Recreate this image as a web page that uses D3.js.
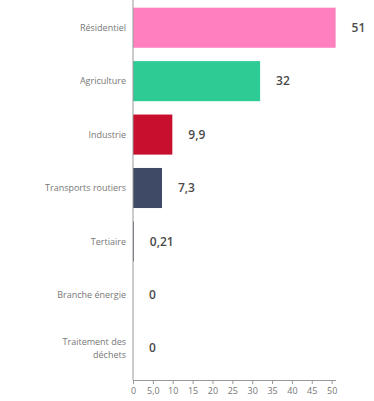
<!DOCTYPE html>
<html><head><meta charset="utf-8">
<script src="https://cdn.jsdelivr.net/npm/d3@7"></script>
<style>html,body{margin:0;padding:0;background:#fff;}svg{display:block;font-family:"Open Sans",sans-serif;}</style>
</head><body>
<svg id="c" width="374" height="401"></svg>
<script>
const categories = ["Résidentiel","Agriculture","Industrie","Transports routiers","Tertiaire","Branche énergie","Traitement des déchets"];
const values = [51, 32, 9.9, 7.3, 0.21, 0, 0];
const valueLabels = ["51","32","9,9","7,3","0,21","0","0"];
const colors = ["#ff7fbf","#2ecc94","#c8102e","#3f4b66","#3f4b66","#888","#888"];
const tickValues = [0,5,10,15,20,25,30,35,40,45,50];
const tickLabels = ["0","5,0","10","15","20","25","30","35","40","45","50"];

const svg = d3.select("#c");
const x = d3.scaleLinear().domain([0,51]).range([133,335.6]);
const y = d3.scaleBand().domain(categories).range([1,375]).paddingInner(0.25).paddingOuter(0.125);

svg.selectAll("rect.bar").data(categories).join("rect")
  .attr("class","bar")
  .attr("x", x(0))
  .attr("y", d=>y(d))
  .attr("width", (d,i)=>x(values[i])-x(0))
  .attr("height", y.bandwidth())
  .attr("fill", (d,i)=>colors[i]);

// value labels
svg.selectAll("text.val").data(categories).join("text")
  .attr("class","val")
  .attr("x", (d,i)=>x(values[i])+16)
  .attr("y", d=>y(d)+y.bandwidth()/2)
  .attr("dy","0.35em")
  .attr("fill","#4a4a4a")
  .attr("font-size","12px")
  .attr("font-weight","600")
  .text((d,i)=>valueLabels[i]);

// category labels
const lab = svg.selectAll("text.cat").data(categories).join("text")
  .attr("class","cat")
  .attr("text-anchor","end")
  .attr("x", 126)
  .attr("y", d=>y(d)+y.bandwidth()/2)
  .attr("fill","#777")
  .attr("font-size","9px");
lab.each(function(d){
  const t = d3.select(this);
  const lines = d === "Traitement des déchets" ? ["Traitement des","déchets"] : [d];
  const lh = 1.4;
  const off = -(lines.length-1)*lh/2;
  lines.forEach((l,k)=>{
    t.append("tspan").attr("x",126).attr("dy", k===0 ? (off+0.35)+"em" : lh+"em").text(l);
  });
});

// y axis line
svg.append("line").attr("x1",x(0)).attr("x2",x(0)).attr("y1",0).attr("y2",380)
  .attr("stroke","#999").attr("stroke-width",1);

// x axis
const xAxis = d3.axisBottom(x).tickValues(tickValues).tickFormat((d,i)=>tickLabels[i]).tickSize(4).tickSizeOuter(0);
const g = svg.append("g").attr("transform","translate(0,380)").call(xAxis);
g.select(".domain").attr("stroke","#999");
g.selectAll(".tick line").attr("stroke","#999");
g.selectAll(".tick text").attr("fill","#777").attr("font-size","9px").attr("font-family","'Open Sans',sans-serif").attr("y",8).attr("dy","0.71em");
</script>
</body></html>
